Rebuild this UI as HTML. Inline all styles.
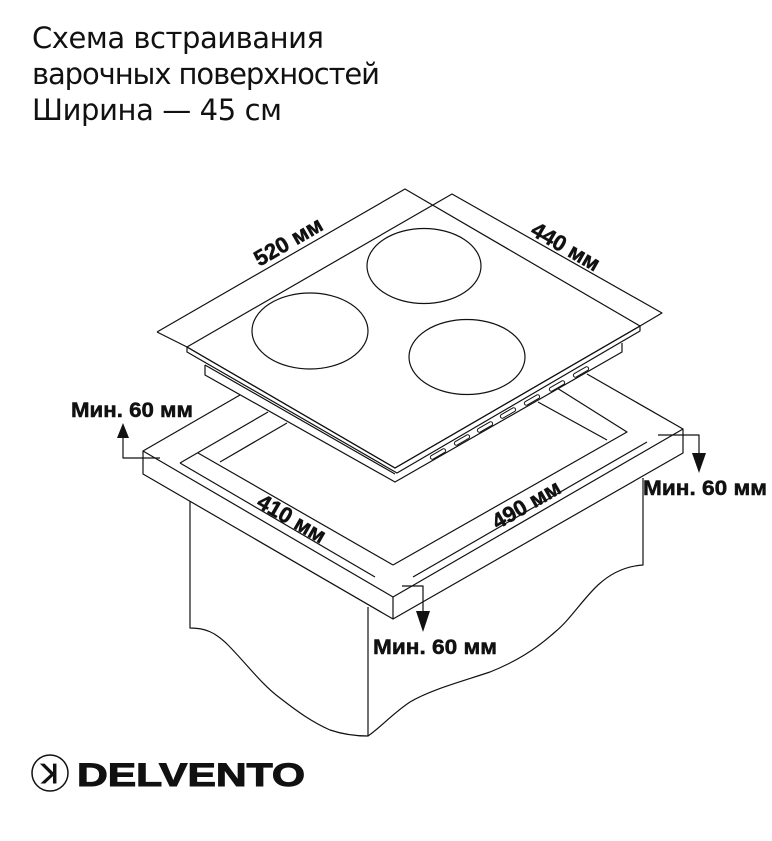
<!DOCTYPE html>
<html><head><meta charset="utf-8"><style>
html,body{margin:0;padding:0;background:#fff;}
svg{display:block;}
</style></head><body>
<svg width="772" height="841" viewBox="0 0 772 841" xmlns="http://www.w3.org/2000/svg">
<rect width="772" height="841" fill="#fff"/>
<g font-family="DejaVu Sans, Liberation Sans, sans-serif" font-size="29" fill="#111">
<text x="32" y="48" textLength="292">Схема встраивания</text>
<text x="32" y="84" textLength="348">варочных поверхностей</text>
<text x="32" y="120" textLength="250">Ширина — 45 см</text>
</g>

<g fill="none" stroke="#111" stroke-width="1.2" stroke-linejoin="round">
<!-- cabinet -->
<path d="M190,501 L190,628 C205,628 215,632 228,645 C245,662 262,685 280,698 C298,712 312,722 330,730 C345,735 358,736 368,736 L368,607"/>
<path d="M643,478 L643,565 C628,566 612,572 598,585 C582,600 570,620 555,632 C535,650 515,662 490,672 C460,682 430,690 410,702 C392,714 380,728 368,736"/>
<!-- countertop -->
<path d="M143,451 L143,474 L393,619 L683,453 L683,429 L393,597 Z" fill="#fff"/>
<path d="M393,597 L393,619"/>
<path d="M143,451 L240,395"/>
<path d="M683,429 L587,374"/>
<path d="M180,463 L268,412"/>
<path d="M220,462 L287,423"/>
<path d="M180,463 L375,577"/>
<path d="M198,453 L393,565"/>
<path d="M413,577 L647,442"/>
<path d="M393,565 L627,432 L557,388"/>
<path d="M607,440 L538,402"/>
<!-- hob body -->
<path d="M205,365 L205,375 L395,482 L622,352 L622,343" fill="#fff"/>
<!-- glass -->
<path d="M187,347 L187,352 L397,473 L640,331 L640,326 L395,468 Z" fill="#fff"/>
<path d="M187,347 L452,194 L662,313 L640,326"/>
<path d="M157,332 L405,189 L640,326"/>
<path d="M157,332 L187,347"/>
<path d="M187,347 L395,468 L640,326"/>
<path d="M205,365 L395,474"/>
<!-- burners -->
<ellipse cx="310" cy="331" rx="58" ry="38"/>
<ellipse cx="424" cy="266" rx="57" ry="37.5"/>
<ellipse cx="467" cy="357" rx="58" ry="37.5"/>
<!-- vents -->
<g stroke-width="1">
<rect x="-8.5" y="-2" width="17" height="4" rx="2" transform="translate(438,454) rotate(-30)"/>
<rect x="-8.5" y="-2" width="17" height="4" rx="2" transform="translate(462,440) rotate(-30)"/>
<rect x="-8.5" y="-2" width="17" height="4" rx="2" transform="translate(485,427) rotate(-30)"/>
<rect x="-8.5" y="-2" width="17" height="4" rx="2" transform="translate(508,413) rotate(-30)"/>
<rect x="-8.5" y="-2" width="17" height="4" rx="2" transform="translate(532,400) rotate(-30)"/>
<rect x="-8.5" y="-2" width="17" height="4" rx="2" transform="translate(557,386) rotate(-30)"/>
<rect x="-8.5" y="-2" width="17" height="4" rx="2" transform="translate(581,372) rotate(-30)"/>
</g>
<!-- arrows -->
<path d="M160,458 L123,458 L123,437"/>
<path d="M402,586 L423,586 L423,612"/>
<path d="M658,435 L699,435 L699,455"/>
</g>
<g fill="#111">
<polygon points="117,438 129,438 123,423"/>
<polygon points="416,611 430,611 423,632"/>
<polygon points="692,453 706,453 699,473"/>
</g>

<g font-family="Liberation Sans, Arial, sans-serif" font-weight="700" font-size="21" fill="#111" stroke="#111" stroke-width="0.5">
<text x="71" y="417" textLength="122" lengthAdjust="spacingAndGlyphs">Мин. 60 мм</text>
<text x="643" y="495" textLength="124" lengthAdjust="spacingAndGlyphs">Мин. 60 мм</text>
<text x="373" y="654" textLength="124" lengthAdjust="spacingAndGlyphs">Мин. 60 мм</text>
<text font-size="22" text-anchor="middle" transform="translate(292,248) rotate(-30)">520 мм</text>
<text font-size="22" text-anchor="middle" transform="translate(562,253) rotate(30)">440 мм</text>
<text font-size="22" text-anchor="middle" transform="translate(288,525) rotate(30)">410 мм</text>
<text font-size="22" text-anchor="middle" transform="translate(530,511) rotate(-30)">490 мм</text>
</g>

<!-- logo -->
<circle cx="50" cy="773" r="18" fill="none" stroke="#111" stroke-width="1.5"/>
<text x="50" y="783" text-anchor="middle" font-family="Liberation Sans, sans-serif" font-weight="700" font-size="26" fill="#111">ꓘ</text>
<text x="77" y="786" textLength="228" lengthAdjust="spacingAndGlyphs" font-family="Liberation Sans, sans-serif" font-weight="700" font-size="32" fill="#111" stroke="#111" stroke-width="1">DELVENTO</text>
</svg>
</body></html>
